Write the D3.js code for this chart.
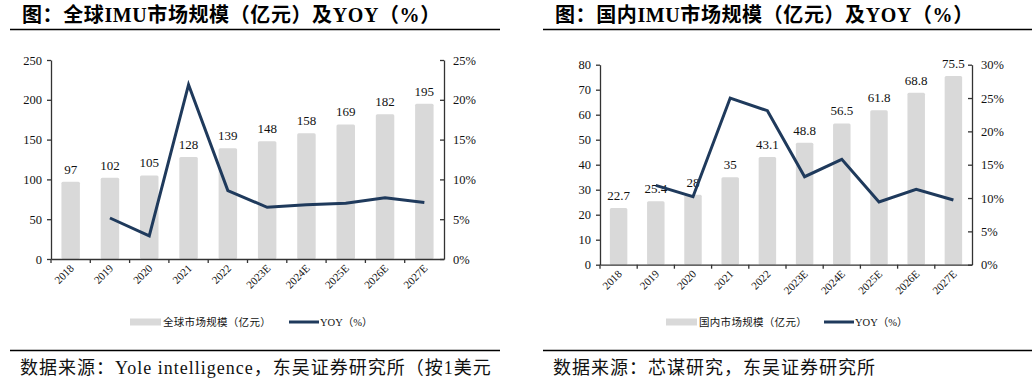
<!DOCTYPE html>
<html>
<head>
<meta charset="utf-8">
<script src="https://cdn.jsdelivr.net/npm/d3@7"></script>
<style>
body{margin:0;background:#fff;}
svg{display:block;}
</style>
</head>
<body>
<svg width="1034" height="380"></svg>
<script>
// data
var years = ['2018','2019','2020','2021','2022','2023E','2024E','2025E','2026E','2027E'];
var globalSize = [97,102,105,128,139,148,158,169,182,195];
var globalYoy = [null,5.15,2.9,21.9,8.6,6.5,6.8,7.0,7.7,7.1];
var chinaSize = [22.7,25.4,28,35,43.1,48.8,56.5,61.8,68.8,75.5];
var chinaYoy = [null,11.9,10.2,25.0,23.1,13.2,15.8,9.4,11.3,9.7];
var leftTicks1 = [0,50,100,150,200,250];
var rightTicks1 = [0,5,10,15,20,25];
var leftTicks2 = [0,10,20,30,40,50,60,70,80];
var rightTicks2 = [0,5,10,15,20,25,30];

var svg = d3.select('svg');
var serif = '"Liberation Serif","Times New Roman","Noto Sans CJK SC",serif';
var cjk = '"Liberation Serif","Noto Sans CJK SC",serif';
var barColor = '#d9d9d9', lineColor = '#1f3a5c';

function drawChart(o){
  var g = svg.append('g');
  // title + rules
  g.append('text').attr('x',o.titleX).attr('y',22).attr('font-family',cjk).attr('font-weight','bold')
    .attr('font-size',20).attr('letter-spacing',0.6).attr('fill','#000').text(o.title);
  g.append('line').attr('x1',o.ruleX1).attr('x2',o.ruleX2).attr('y1',29.5).attr('y2',29.5).attr('stroke','#000').attr('stroke-width',1.5);
  g.append('line').attr('x1',o.ruleX1).attr('x2',o.ruleX2).attr('y1',350.5).attr('y2',350.5).attr('stroke','#000').attr('stroke-width',1.5);
  g.append('text').attr('x',o.titleX-2).attr('y',374).attr('font-family',cjk).attr('font-size',18)
    .attr('letter-spacing',1).attr('fill','#111').text(o.source);

  var x = d3.scaleBand().domain(years).range([o.x0,o.x1]);
  var y = d3.scaleLinear().domain([0,o.yMax]).range([o.yBottom,o.yTop]);
  var y2 = d3.scaleLinear().domain([0,o.y2Max]).range([o.yBottom,o.yTop]);
  var bw = x.bandwidth()*0.47;

  g.selectAll('rect.bar').data(o.size).enter().append('rect').attr('class','bar')
    .attr('x',function(d,i){return x(years[i])+x.bandwidth()/2-bw/2;})
    .attr('y',function(d){return y(d);})
    .attr('width',bw).attr('height',function(d){return o.yBottom-y(d);})
    .attr('rx',1.5).attr('fill',barColor);

  g.selectAll('text.val').data(o.size).enter().append('text').attr('class','val')
    .attr('x',function(d,i){return x(years[i])+x.bandwidth()/2;})
    .attr('y',function(d){return y(d)-8;})
    .attr('text-anchor','middle').attr('font-family',serif).attr('font-size',13).attr('fill','#111')
    .text(function(d){return d;});

  var pts = o.yoy.map(function(d,i){return {v:d,c:years[i]};}).filter(function(d){return d.v!==null;});
  g.append('path').datum(pts).attr('fill','none').attr('stroke',lineColor).attr('stroke-width',3)
    .attr('stroke-linejoin','miter')
    .attr('d',d3.line().x(function(d){return x(d.c)+x.bandwidth()/2;}).y(function(d){return y2(d.v);}));

  // axes
  var la = g.append('g').attr('transform','translate('+o.x0+',0)')
    .call(d3.axisLeft(y).tickValues(o.lt).tickSize(4).tickSizeOuter(0));
  var ra = g.append('g').attr('transform','translate('+o.x1+',0)')
    .call(d3.axisRight(y2).tickValues(o.rt).tickSize(-4).tickSizeOuter(0).tickFormat(function(d){return d+'%';}));
  var xa = g.append('g').attr('transform','translate(0,'+o.yBottom+')')
    .call(d3.axisBottom(x).tickSize(0).tickSizeOuter(0));
  [la,ra,xa].forEach(function(a){
    a.select('.domain').attr('stroke','#333').attr('stroke-width',1.3);
    a.selectAll('line').attr('stroke','#333').attr('stroke-width',1.3);
    a.selectAll('text').attr('font-family',serif).attr('font-size',12.5).attr('fill','#111');
  });
  la.selectAll('text').attr('x',-9);
  ra.selectAll('text').attr('x',9);
  xa.selectAll('text').attr('font-size',11).attr('text-anchor','end').attr('dy',0).attr('y',0)
    .attr('transform','translate(4,10) rotate(-45)');
  // category boundary ticks
  g.selectAll('line.xt').data(years).enter().append('line').attr('class','xt')
    .attr('x1',function(d){return x(d);}).attr('x2',function(d){return x(d);})
    .attr('y1',o.yBottom).attr('y2',o.yBottom+4).attr('stroke','#333').attr('stroke-width',1.3);

  // legend
  var ly = 322;
  g.append('rect').attr('x',o.legX).attr('y',ly-3.5).attr('width',31).attr('height',7).attr('fill',barColor);
  g.append('text').attr('x',o.legX+33).attr('y',ly+4).attr('font-family',cjk).attr('font-size',10.5)
    .attr('letter-spacing',0.3).attr('fill','#111').text(o.legend);
  g.append('line').attr('x1',o.legX2).attr('x2',o.legX2+30).attr('y1',ly).attr('y2',ly)
    .attr('stroke',lineColor).attr('stroke-width',3);
  g.append('text').attr('x',o.legX2+31).attr('y',ly+4).attr('font-family',cjk).attr('font-size',10.5)
    .attr('fill','#111').text('YOY（%）');
}

drawChart({
  title:'图：全球IMU市场规模（亿元）及YOY（%）', titleX:22, ruleX1:10, ruleX2:500,
  source:'数据来源：Yole intelligence，东吴证券研究所（按1美元',
  x0:51, x1:444, yTop:60, yBottom:259, yMax:250, y2Max:25,
  size:globalSize, yoy:globalYoy, lt:leftTicks1, rt:rightTicks1,
  legX:130, legX2:289, legend:'全球市场规模（亿元）'
});
drawChart({
  title:'图：国内IMU市场规模（亿元）及YOY（%）', titleX:555, ruleX1:543, ruleX2:1032,
  source:'数据来源：芯谋研究，东吴证券研究所',
  x0:600, x1:972, yTop:64.7, yBottom:264.7, yMax:80, y2Max:30,
  size:chinaSize, yoy:chinaYoy, lt:leftTicks2, rt:rightTicks2,
  legX:666, legX2:824, legend:'国内市场规模（亿元）'
});
</script>
</body>
</html>
